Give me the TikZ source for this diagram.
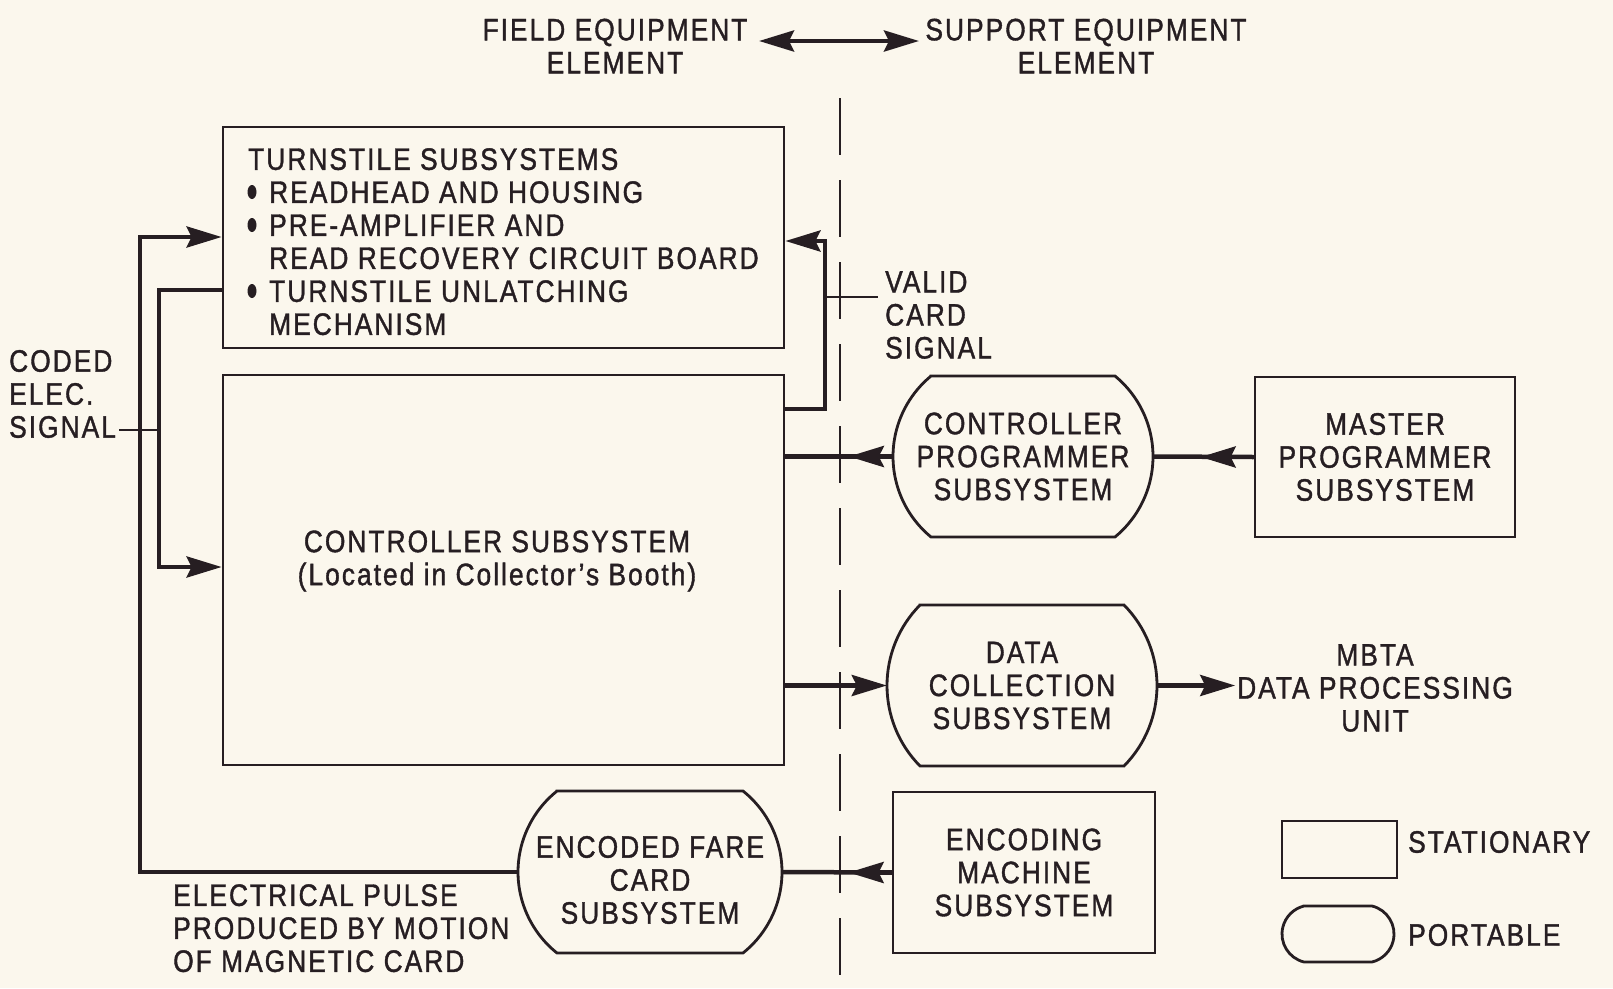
\documentclass[tikz,border=0pt]{standalone}
\usepackage{fontspec}
\setmainfont{Liberation Sans}[FakeStretch=0.85,LetterSpace=6.5,FakeBold=1.2]
\usetikzlibrary{arrows.meta}
\definecolor{paper}{RGB}{251,247,237}
\definecolor{ink}{RGB}{38,30,34}
\newcommand\portable[5]{%
 \pgfmathsetmacro\ph{(#4-#3)/2}%
 \pgfmathsetmacro\pR{(\ph*\ph+#5*#5)/(2*#5)}%
 \pgfmathsetmacro\pphi{atan(\ph/(\pR-#5))}%
 \pgfmathsetmacro\pphiB{180-\pphi}%
 \pgfmathsetmacro\pphiC{180+\pphi}%
 \draw[box] ({#1+#5},#3) -- ({#2-#5},#3) arc[start angle=-\pphi, end angle=\pphi, radius=\pR] -- ({#1+#5},#4) arc[start angle=\pphiB, end angle=\pphiC, radius=\pR] -- cycle;}
\tikzset{
  every node/.style={font=\fontsize{31}{33}\selectfont, text=ink, inner sep=0pt},
  box/.style={draw=ink, line width=2.8pt},
  conn/.style={draw=ink, line width=4.5pt},
  lead/.style={draw=ink, line width=1.6pt},
  tip/.style={-{Stealth[length=35pt,width=21pt,inset=5pt]}},
  dtip/.style={{Stealth[length=35pt,width=21pt,inset=5pt]}-{Stealth[length=35pt,width=21pt,inset=5pt]}},
}
\begin{document}
\begin{tikzpicture}[x=1pt,y=-1pt]
\useasboundingbox (0,0) rectangle (1613,988);
\fill[paper] (0,0) rectangle (1613,988);

% dashed boundary
\draw[ink, line width=2.6pt, dash pattern=on 57pt off 25pt] (840,98) -- (840,988);

% header
\node[align=center] (hdrL) at (615,46) {FIELD EQUIPMENT\\ELEMENT};
\node[align=center] (hdrR) at (1086,46) {SUPPORT EQUIPMENT\\ELEMENT};
\coordinate (h1) at (759,41);
\coordinate (h2) at (919,41);
\draw[conn,dtip] (h1) -- (h2);

% stationary boxes
\node[box, minimum width=561pt, minimum height=221pt] (tsb) at (503.5,237.5) {};
\node[box, minimum width=561pt, minimum height=390pt] (ctrl) at (503.5,570) {};
\node[box, minimum width=260pt, minimum height=160pt, align=center] (master) at (1385,457) {MASTER\\PROGRAMMER\\SUBSYSTEM};
\node[box, minimum width=262pt, minimum height=161pt, align=center] (enc) at (1024,872.5) {ENCODING\\MACHINE\\SUBSYSTEM};

% turnstile text
\node[anchor=north west, align=left] (tst) at (248,148) {TURNSTILE SUBSYSTEMS\\\hspace*{21pt}READHEAD AND HOUSING\\\hspace*{21pt}PRE-AMPLIFIER AND\\\hspace*{21pt}READ RECOVERY CIRCUIT BOARD\\\hspace*{21pt}TURNSTILE UNLATCHING\\\hspace*{21pt}MECHANISM};
\fill[ink] (252,192) ellipse[x radius=4.5, y radius=7];
\fill[ink] (252,225) ellipse[x radius=4.5, y radius=7];
\fill[ink] (252,291) ellipse[x radius=4.5, y radius=7];

% controller text
\node[align=center] (ctxt) at (497,561) {CONTROLLER SUBSYSTEM\\(Located in Collector’s Booth)};

% portable shapes
\portable{893}{1153}{376}{537}{38}
\node[minimum width=260pt, minimum height=161pt, align=center] (cp) at (1023,456.5) {CONTROLLER\\PROGRAMMER\\SUBSYSTEM};
\portable{887}{1157}{605}{766}{33}
\node[minimum width=270pt, minimum height=161pt, align=center] (dc) at (1022,685.5) {DATA\\COLLECTION\\SUBSYSTEM};
\portable{518}{782}{791}{953}{39}
\node[minimum width=264pt, minimum height=162pt] (efc) at (650,872) {};
\node[align=center] (efctxt) at (650,880) {ENCODED FARE\\CARD\\SUBSYSTEM};

% labels
\node[anchor=west, align=left] (coded) at (9,394) {CODED\\ELEC.\\SIGNAL};
\node[anchor=west, align=left] (valid) at (885,315) {VALID\\CARD\\SIGNAL};
\node[align=center] (mbta) at (1375,688) {MBTA\\DATA PROCESSING\\UNIT};
\node[anchor=north west, align=left] (pulse) at (173,884) {ELECTRICAL PULSE\\PRODUCED BY MOTION\\OF MAGNETIC CARD};

% connectors
\coordinate (o1) at (140,237);
\draw[conn,tip] (efc.west) -| (o1) -- (tsb.west |- o1);
\coordinate (i1) at (159,290);
\coordinate (i2) at (159,567);
\draw[conn,tip] (tsb.west |- i1) -- (i1) -- (i2) -- (ctrl.west |- i2);
\coordinate (v1) at (825,409);
\coordinate (v2) at (825,241);
\draw[conn,tip] (ctrl.east |- v1) -- (v1) -- (v2) -- (tsb.east |- v2);

\draw[conn] (cp.west) -- (ctrl.east |- cp.west);
\draw[conn,tip] (cp.west) -- ++(-44,0);
\draw[conn] (master.west) -- (cp.east);
\draw[conn,tip] (master.west) -- ++(-53,0);
\draw[conn,tip] (ctrl.east |- dc.west) -- (dc.west);
\draw[conn,tip] (dc.east) -- ++(78,0);
\draw[conn] (enc.west) -- (efc.east);
\draw[conn,tip] (enc.west) -- ++(-43,0);

% leaders
\coordinate (cl) at (159,430);
\draw[lead] (cl) -- ([xshift=3pt]coded.east |- cl);
\coordinate (vl) at (825,297);
\draw[lead] (vl) -- ([xshift=-7pt]valid.west |- vl);

% legend
\node[box, minimum width=115pt, minimum height=57pt] (lrect) at (1339.5,849.5) {};
\portable{1282}{1394}{906}{962}{22}
\node[minimum width=112pt, minimum height=56pt] (lport) at (1338,934) {};
\node[anchor=west] (stat) at (1408,842) {STATIONARY};
\node[anchor=west] (port) at (1408,935) {PORTABLE};
\end{tikzpicture}
\end{document}
